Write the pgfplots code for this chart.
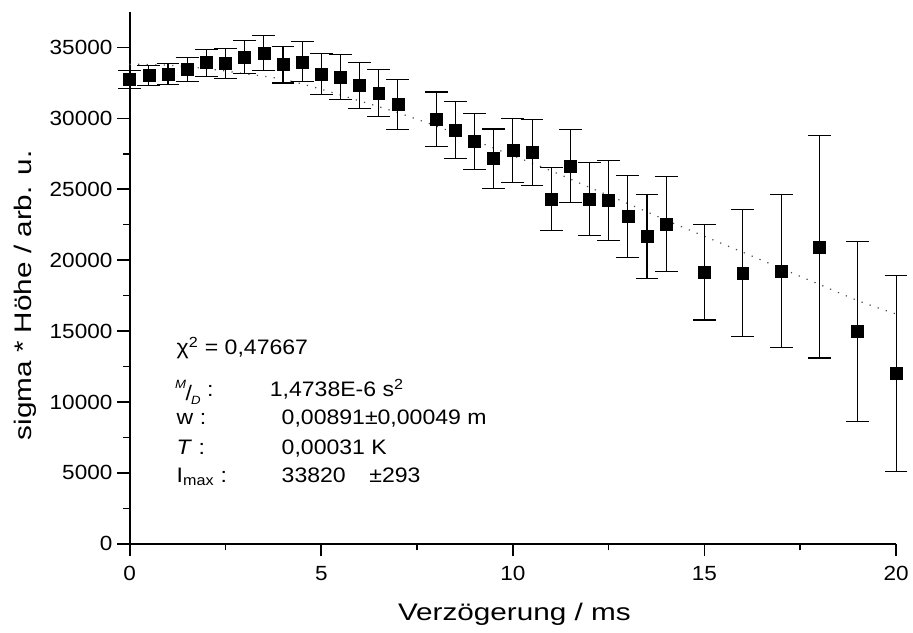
\documentclass[border=0pt]{standalone}
\usepackage{fontspec}
\setmainfont{Liberation Sans}[FakeStretch=1.1]
\newfontfamily\labelfont{Liberation Sans}[FakeStretch=1.24]
\usepackage{pgfplots}
\usepackage{pgfplotstable}
\pgfplotsset{compat=1.18}

\pgfplotstableread{
x y e
0 32750 650
0.5 33030 700
1 33120 740
1.5 33450 870
2 33920 940
2.5 33870 1050
3 34340 1150
3.5 34600 1220
4 33790 1300
4.5 33980 1410
5 33110 1460
5.5 32920 1560
6 32320 1600
6.5 31780 1680
7 30960 1760
8 29930 1925
8.5 29180 2000
9 28360 2000
9.5 27160 2090
10 27750 2270
10.5 27610 2320
11 24320 2230
11.5 26640 2600
12 24320 2580
12.5 24200 2840
13 23100 2900
13.5 21670 2990
14 22560 3360
15 19160 3380
16 19080 4480
17 19250 5400
18 20940 7840
19 14980 6330
20 12000 6890
}\datatable

\pgfplotstableread{
x y
0 33820
1 33750
2 33500
3 33150
4 32750
5 32050
6 31230
7 30400
8 29450
9 28430
10 27370
11 26300
12 25130
13 23990
14 22820
15 21680
16 20560
17 19420
18 18290
19 17150
20 16200
}\fittable

\begin{document}
\begin{tikzpicture}[ann/.style={anchor=base west, inner sep=0pt, font=\fontsize{15.75}{18}\selectfont}]
\begin{axis}[
  scale only axis, width=576pt, height=399.75pt,
  xmin=0, xmax=20, ymin=0, ymax=37500,
  axis x line*=bottom, axis y line*=left,
  axis line style={line width=1.6pt, -},
  xtick={0,5,10,15,20}, ytick={0,5000,...,35000},
  minor x tick num=1, minor y tick num=1,
  tick align=outside,
  major tick length=9.5pt, minor tick length=5pt,
  tick style={black, line width=1.2pt},
  tick label style={font=\fontsize{15.4}{16}\selectfont},
  xticklabel style={yshift=-4pt},
  /pgf/number format/assume math mode=true,
  scaled y ticks=false,
  yticklabel style={/pgf/number format/1000 sep={}},
  xlabel={Verzögerung / ms}, ylabel={sigma * Höhe / arb. u.},
  label style={font=\labelfont\fontsize{18}{20}\selectfont},
  xlabel style={at={(axis description cs:0.502,-0.1445)}, anchor=base},
  ylabel style={at={(axis description cs:-0.1276,0.467)}, anchor=base},
  clip=false,
]
\addplot[gray!60!black, line width=0.9pt, dash pattern=on 0.9pt off 5.5pt, smooth, no marks] table[x=x, y=y] {\fittable};
\addplot[only marks, mark=square*, mark size=4.5pt, black,
  error bars/.cd, y dir=both, y explicit,
  error bar style={line width=0.8pt, black},
  error mark options={rotate=90, black, mark size=8.6pt, line width=0.8pt}]
  table[x=x, y=y, y error=e] {\datatable};

\node[ann] at (axis cs:1.22,13330) {χ\textsuperscript{2} = 0,47667};
\node[ann] at (axis cs:1.18,10400) {\raisebox{0.75ex}{\fontsize{9}{9}\selectfont\itshape M}\kern-0.5pt\raisebox{-0.35ex}{/}\kern-0.5pt\raisebox{-0.7ex}{\fontsize{9}{9}\selectfont\itshape D}~:};
\node[ann] at (axis cs:3.65,10400) {1,4738E-6 s\textsuperscript{2}};
\node[ann] at (axis cs:1.22,8404) {w :};
\node[ann] at (axis cs:3.96,8404) {0,00891±0,00049 m};
\node[ann] at (axis cs:1.22,6289) {\textit{T} :};
\node[ann] at (axis cs:3.96,6289) {0,00031 K};
\node[ann] at (axis cs:1.22,4296) {I\textsubscript{max} :};
\node[ann] at (axis cs:3.96,4296) {33820};
\node[ann] at (axis cs:6.25,4296) {±293};

\coordinate (bl) at (rel axis cs:0,0);
\coordinate (tr) at (rel axis cs:1,1);
\end{axis}
\path ([shift={(-97.5pt,-66.75pt)}]bl) rectangle ([shift={(11.25pt,9pt)}]tr);
\end{tikzpicture}
\end{document}
